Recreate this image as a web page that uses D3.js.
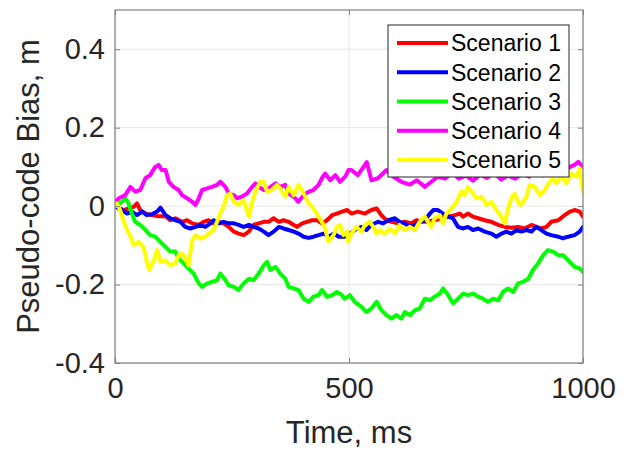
<!DOCTYPE html>
<html>
<head>
<meta charset="utf-8">
<script src="https://cdn.jsdelivr.net/npm/d3@7"></script>
<style>
html, body { margin: 0; padding: 0; background: #fff; }
svg { display: block; font-family: "Liberation Sans", Arial, sans-serif; }
</style>
</head>
<body>
<svg id="chart" width="634" height="449"></svg>
<script>
// ---------- data ----------
const seriesNames = ["Scenario 1", "Scenario 2", "Scenario 3", "Scenario 4", "Scenario 5"];
const seriesColors = ["#ff0000", "#0000ff", "#00ff00", "#ff00ff", "#ffff00"];
const xTicks = [0, 500, 1000];
const yTicks = [-0.4, -0.2, 0, 0.2, 0.4];

// [time ms, bias m]
const scenario1 = [[0,0],[8,-0.006],[19,-0.010],[29,-0.006],[40,-0.002],[47,0.007],[54,-0.010],[65,-0.019],[79,-0.023],[93,-0.026],[108,-0.026],[118,-0.036],[129,-0.031],[143,-0.040],[154,-0.036],[165,-0.044],[179,-0.048],[189,-0.040],[200,-0.036],[211,-0.044],[222,-0.040],[232,-0.044],[243,-0.053],[254,-0.065],[264,-0.070],[275,-0.074],[286,-0.065],[296,-0.048],[307,-0.044],[318,-0.040],[328,-0.040],[339,-0.031],[350,-0.040],[360,-0.036],[371,-0.040],[382,-0.048],[389,-0.053],[400,-0.044],[410,-0.040],[421,-0.036],[432,-0.036],[442,-0.044],[453,-0.036],[464,-0.023],[474,-0.019],[485,-0.014],[496,-0.010],[505,-0.019],[519,-0.014],[534,-0.019],[548,-0.010],[559,-0.006],[569,-0.023],[580,-0.036],[591,-0.040],[605,-0.044],[619,-0.040],[633,-0.044],[644,-0.036],[655,-0.040],[669,-0.040],[683,-0.036],[697,-0.031],[712,-0.027],[726,-0.023],[737,-0.019],[744,-0.027],[754,-0.019],[765,-0.027],[776,-0.031],[790,-0.036],[804,-0.040],[819,-0.048],[833,-0.053],[847,-0.055],[861,-0.053],[875,-0.057],[890,-0.048],[900,-0.053],[911,-0.057],[922,-0.053],[932,-0.040],[947,-0.036],[961,-0.023],[972,-0.014],[982,-0.010],[993,-0.014],[1000,-0.027]];

const scenario2 = [[0,0],[4,-0.002],[15,-0.010],[26,-0.019],[36,-0.014],[47,-0.023],[58,-0.014],[68,-0.023],[79,-0.021],[90,-0.014],[97,-0.004],[108,-0.023],[118,-0.031],[129,-0.036],[140,-0.040],[150,-0.053],[161,-0.057],[172,-0.053],[182,-0.048],[193,-0.053],[204,-0.044],[211,-0.036],[222,-0.044],[232,-0.040],[243,-0.044],[254,-0.044],[264,-0.048],[275,-0.053],[286,-0.048],[296,-0.053],[307,-0.057],[318,-0.065],[328,-0.074],[339,-0.065],[350,-0.053],[360,-0.057],[371,-0.061],[382,-0.065],[392,-0.070],[403,-0.078],[414,-0.081],[424,-0.078],[435,-0.074],[446,-0.070],[457,-0.078],[467,-0.070],[478,-0.078],[491,-0.078],[502,-0.070],[512,-0.061],[527,-0.053],[537,-0.061],[548,-0.048],[562,-0.040],[573,-0.044],[584,-0.036],[598,-0.031],[608,-0.040],[619,-0.044],[630,-0.053],[641,-0.048],[651,-0.040],[662,-0.036],[673,-0.019],[680,-0.010],[690,-0.010],[701,-0.019],[712,-0.027],[722,-0.031],[733,-0.053],[744,-0.057],[754,-0.053],[765,-0.061],[776,-0.057],[790,-0.065],[804,-0.070],[815,-0.078],[826,-0.070],[836,-0.065],[847,-0.070],[858,-0.061],[868,-0.065],[879,-0.061],[890,-0.065],[900,-0.053],[911,-0.061],[922,-0.070],[932,-0.074],[947,-0.078],[957,-0.082],[968,-0.078],[982,-0.074],[993,-0.065],[1000,-0.053]];

const scenario3 = [[0,0],[4,0.003],[15,0.011],[22,0.020],[29,0.007],[36,-0.019],[43,-0.040],[54,-0.048],[65,-0.061],[75,-0.074],[86,-0.078],[97,-0.091],[108,-0.104],[118,-0.116],[129,-0.116],[136,-0.134],[147,-0.146],[157,-0.159],[168,-0.172],[179,-0.197],[186,-0.206],[197,-0.197],[207,-0.193],[218,-0.189],[225,-0.172],[236,-0.189],[243,-0.202],[254,-0.206],[264,-0.214],[275,-0.197],[286,-0.185],[296,-0.189],[307,-0.172],[318,-0.151],[325,-0.142],[332,-0.163],[343,-0.155],[353,-0.172],[364,-0.185],[371,-0.206],[382,-0.210],[392,-0.214],[403,-0.236],[414,-0.244],[424,-0.231],[435,-0.227],[442,-0.214],[453,-0.231],[464,-0.227],[474,-0.219],[485,-0.227],[491,-0.236],[502,-0.227],[512,-0.244],[527,-0.257],[537,-0.270],[548,-0.261],[559,-0.244],[569,-0.265],[580,-0.278],[591,-0.287],[601,-0.278],[612,-0.287],[619,-0.270],[630,-0.278],[641,-0.265],[651,-0.261],[662,-0.236],[673,-0.240],[683,-0.231],[694,-0.223],[701,-0.210],[712,-0.227],[722,-0.248],[733,-0.236],[744,-0.223],[754,-0.227],[765,-0.223],[776,-0.231],[786,-0.236],[797,-0.244],[808,-0.236],[819,-0.240],[829,-0.219],[840,-0.210],[851,-0.219],[861,-0.197],[872,-0.193],[883,-0.185],[893,-0.163],[904,-0.146],[915,-0.125],[925,-0.112],[936,-0.116],[947,-0.125],[957,-0.125],[968,-0.138],[982,-0.155],[993,-0.159],[1000,-0.168]];

const scenario4 = [[0,0.010],[8,0.020],[22,0.028],[33,0.049],[43,0.037],[54,0.041],[65,0.071],[75,0.079],[86,0.100],[93,0.105],[100,0.092],[108,0.092],[115,0.062],[125,0.049],[136,0.041],[143,0.028],[154,0.020],[165,0.011],[172,0.003],[179,0.020],[186,0.041],[197,0.045],[207,0.049],[218,0.054],[225,0.062],[236,0.049],[243,0.032],[254,0.028],[261,0.020],[271,0.024],[282,0.032],[293,0.049],[300,0.058],[307,0.049],[318,0.041],[328,0.045],[343,0.058],[353,0.049],[364,0.054],[371,0.032],[382,0.024],[392,0.011],[403,0.028],[414,0.037],[424,0.041],[435,0.054],[442,0.071],[449,0.083],[460,0.066],[471,0.079],[481,0.062],[492,0.075],[499,0.092],[505,0.092],[519,0.079],[538,0.112],[548,0.066],[562,0.071],[580,0.092],[595,0.075],[612,0.062],[630,0.055],[645,0.066],[662,0.049],[676,0.062],[690,0.075],[705,0.070],[720,0.085],[735,0.070],[750,0.078],[765,0.065],[780,0.080],[795,0.072],[810,0.085],[825,0.068],[840,0.078],[855,0.070],[870,0.082],[885,0.075],[900,0.090],[915,0.078],[930,0.088],[945,0.100],[960,0.092],[972,0.100],[982,0.105],[990,0.113],[1000,0.100]];

const scenario5 = [[0,0],[4,0.007],[11,-0.010],[19,-0.040],[26,-0.061],[33,-0.078],[40,-0.099],[51,-0.091],[61,-0.104],[68,-0.142],[73,-0.163],[83,-0.138],[90,-0.112],[97,-0.142],[108,-0.138],[118,-0.151],[129,-0.146],[136,-0.125],[143,-0.121],[150,-0.134],[157,-0.151],[165,-0.087],[172,-0.074],[182,-0.083],[193,-0.078],[200,-0.070],[211,-0.061],[218,-0.040],[225,-0.019],[232,-0.002],[239,0.028],[246,0.032],[254,0.011],[264,0.003],[275,0.015],[286,-0.027],[293,0.011],[300,0.037],[310,0.062],[318,0.062],[325,0.037],[335,0.041],[346,0.054],[353,0.045],[364,0.024],[371,0.049],[382,0.028],[392,0.054],[403,0.032],[414,0.007],[424,-0.006],[435,-0.027],[442,-0.040],[449,-0.057],[456,-0.091],[467,-0.074],[474,-0.053],[481,-0.048],[488,-0.074],[496,-0.065],[498,-0.091],[505,-0.070],[516,-0.053],[527,-0.065],[534,-0.048],[544,-0.040],[552,-0.053],[559,-0.070],[566,-0.061],[576,-0.070],[587,-0.057],[598,-0.070],[608,-0.048],[619,-0.061],[630,-0.053],[641,-0.061],[651,-0.040],[662,-0.027],[669,-0.040],[676,-0.053],[683,-0.031],[694,-0.023],[701,-0.044],[708,-0.019],[719,-0.006],[730,0.011],[740,0.037],[747,0.028],[754,0.049],[765,0.032],[772,0.020],[783,0.024],[794,0.003],[804,0.011],[815,-0.010],[826,-0.027],[833,-0.044],[840,-0.006],[847,0.020],[854,0.032],[861,0.011],[868,0.003],[879,0.024],[886,0.054],[897,0.049],[908,0.028],[918,0.041],[929,0.062],[936,0.071],[943,0.058],[954,0.079],[964,0.058],[975,0.083],[986,0.075],[993,0.096],[1000,0.037]];

const allSeries = [scenario1, scenario2, scenario3, scenario4, scenario5];

// ---------- chart ----------
const svg = d3.select("#chart");
const L = 115, R = 583, T = 10, B = 363;
const x = d3.scaleLinear().domain([0, 1000]).range([L, R]);
const y = d3.scaleLinear().domain([-0.4, 0.5]).range([B, T]);
const axisColor = "#262626";

// grid
const grid = svg.append("g");
grid.selectAll("line.gy").data(yTicks).join("line")
  .attr("x1", L).attr("x2", R).attr("y1", d => y(d)).attr("y2", d => y(d))
  .attr("stroke", "#e6e6e6").attr("stroke-width", 1);
grid.selectAll("line.gx").data(xTicks).join("line")
  .attr("y1", T).attr("y2", B).attr("x1", d => x(d)).attr("x2", d => x(d))
  .attr("stroke", "#e6e6e6").attr("stroke-width", 1);

// lines
const line = d3.line().x(d => x(d[0])).y(d => y(d[1]));
svg.append("clipPath").attr("id", "clip").append("rect")
  .attr("x", L).attr("y", T).attr("width", R - L).attr("height", B - T);
svg.append("g").attr("clip-path", "url(#clip)")
  .selectAll("path").data(allSeries).join("path")
  .attr("d", line)
  .attr("fill", "none")
  .attr("stroke", (d, i) => seriesColors[i])
  .attr("stroke-width", 4)
  .attr("stroke-linejoin", "round")
  .attr("stroke-linecap", "round");

// axes (ticks inside)
const fmtY = d => d === 0 ? "0" : d.toFixed(1);
const yAxisL = d3.axisLeft(y).tickValues(yTicks).tickSize(-5).tickPadding(10).tickFormat(fmtY);
const yAxisR = d3.axisRight(y).tickValues(yTicks).tickSize(-5).tickFormat("");
const xAxisB = d3.axisBottom(x).tickValues(xTicks).tickSize(-5).tickPadding(14).tickFormat(d => String(d));
const xAxisT = d3.axisTop(x).tickValues(xTicks).tickSize(-5).tickFormat("");

function styleAxis(g) {
  g.select(".domain").remove();
  g.selectAll(".tick line").attr("stroke", "#808080");
  g.selectAll(".tick text").attr("fill", axisColor).style("font-size", "29px")
    .style("font-family", "'Liberation Sans', Arial, sans-serif");
}
svg.append("g").attr("transform", `translate(${L},0)`).call(yAxisL).call(styleAxis);
svg.append("g").attr("transform", `translate(${R},0)`).call(yAxisR).call(styleAxis);
svg.append("g").attr("transform", `translate(0,${B})`).call(xAxisB).call(styleAxis);
svg.append("g").attr("transform", `translate(0,${T})`).call(xAxisT).call(styleAxis);

// box
svg.append("rect").attr("x", L).attr("y", T).attr("width", R - L).attr("height", B - T)
  .attr("fill", "none").attr("stroke", "#808080").attr("stroke-width", 1.2);

// axis titles
svg.append("text").attr("x", (L + R) / 2).attr("y", 443)
  .attr("text-anchor", "middle").attr("fill", axisColor)
  .style("font-size", "31px").text("Time, ms");
svg.append("text").attr("transform", `translate(39,${(T + B) / 2}) rotate(-90)`)
  .attr("text-anchor", "middle").attr("fill", axisColor)
  .style("font-size", "31px").text("Pseudo-code Bias, m");

// legend
const lg = svg.append("g");
lg.append("rect").attr("x", 388).attr("y", 25).attr("width", 181).attr("height", 152)
  .attr("fill", "#fff").attr("stroke", "#262626").attr("stroke-width", 1);
const rowY = d3.scalePoint().domain(seriesNames).range([43, 160]);
const items = lg.selectAll("g.item").data(seriesNames).join("g")
  .attr("transform", d => `translate(0,${rowY(d)})`);
items.append("line").attr("x1", 397).attr("x2", 448).attr("y1", 0).attr("y2", 0)
  .attr("stroke", (d, i) => seriesColors[i]).attr("stroke-width", 4);
items.append("text").attr("x", 451).attr("y", 0).attr("dy", "0.36em")
  .attr("fill", "#000").style("font-size", "23px").text(d => d);
</script>
</body>
</html>
